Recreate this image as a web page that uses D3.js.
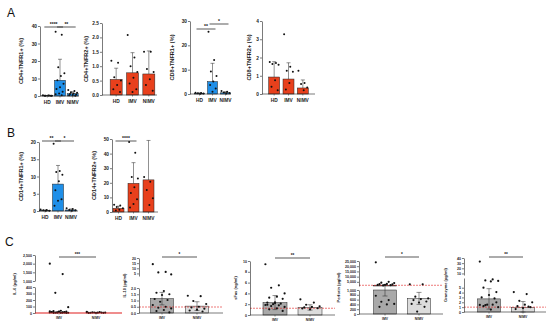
<!DOCTYPE html>
<html>
<head>
<meta charset="utf-8">
<script src="https://cdn.jsdelivr.net/npm/d3@7"></script>
<style>
  body { margin: 0; background: #fff; }
  text { font-family: "Liberation Sans", Arial, sans-serif; font-weight: bold; }
</style>
</head>
<body>
<div id="chart"></div>
<script>
// ---------- data ----------
var groups3 = ["HD", "IMV", "NIMV"];
var groups2 = ["IMV", "NIMV"];

// A: CD4+TNFR1+
var cd4r1Mean = [0.2, 9.0, 1.3];
var cd4r1Sd = [0.1, 12.0, 1.1];
var cd4r1Pts = [[0.4, 0.3, 0.2, 0.1, 0.3, 0.2, 0.1],
                [36.7, 35, 16.5, 13, 11.5, 9, 7, 5, 4, 2.5, 1.5, 1, 0.5],
                [3.5, 2.8, 2.2, 1.8, 1.4, 1.1, 0.9, 0.6, 0.4, 0.2]];
var cd4r1Ticks = [0, 10, 20, 30, 40];

// A: CD4+TNFR2+
var cd4r2Mean = [0.54, 0.77, 0.73];
var cd4r2Sd = [0.39, 0.7, 0.8];
var cd4r2Pts = [[1.19, 1.12, 0.62, 0.5, 0.35, 0.2, 0.1],
                [2.08, 1.3, 1.0, 0.8, 0.6, 0.4, 0.2, 0.1],
                [1.5, 1.5, 0.9, 0.8, 0.55, 0.35, 0.15]];
var cd4r2Ticks = [0, 0.5, 1.0, 1.5, 2.0, 2.5];

// A: CD8+TNFR1+
var cd8r1Mean = [0.3, 5.1, 0.5];
var cd8r1Sd = [0.15, 7.5, 0.4];
var cd8r1Pts = [[0.5, 0.4, 0.3, 0.2, 0.1],
                [25.6, 14, 9.2, 7.4, 5.1, 3.7, 2.3, 0.9],
                [1.2, 0.9, 0.6, 0.4, 0.2]];
var cd8r1Ticks = [0, 10, 20, 30];

// A: CD8+TNFR2+
var cd8r2Mean = [0.93, 0.82, 0.33];
var cd8r2Sd = [0.84, 0.89, 0.44];
var cd8r2Pts = [[1.75, 1.7, 1.65, 1.6, 0.75, 0.4, 0.2],
                [3.27, 1.5, 1.28, 1.22, 0.6, 0.25],
                [1.28, 0.6, 0.55, 0.35, 0.2]];
var cd8r2Ticks = [0, 1, 2, 3, 4];

// B: CD14+TNFR1+
var cd14r1Mean = [0.2, 7.8, 0.3];
var cd14r1Sd = [0.1, 5.4, 0.3];
var cd14r1Pts = [[0.4, 0.3, 0.2, 0.1, 0.1],
                 [19.5, 11.6, 11.3, 10.5, 8.6, 6, 3.4, 3, 1.5],
                 [0.8, 0.6, 0.3, 0.2, 0.1]];
var cd14r1Ticks = [0, 5, 10, 15, 20];

// B: CD14+TNFR2+
var cd14r2Mean = [2.5, 19.6, 22];
var cd14r2Sd = [1.5, 14.2, 27];
var cd14r2Pts = [[5, 4.5, 3.5, 2.5, 1.5, 1],
                 [48, 40.5, 24, 23, 17, 13, 8.7, 5.5, 3],
                 [24, 20.8, 15, 9.4, 4.8]];
var cd14r2Ticks = [0, 10, 20, 30, 40, 50];

// C: IL-6 (pg/ml)
var il6Pts = [[2000, 1400, 310, 90, 35, 28, 22, 18, 15, 12, 10, 8, 6, 5, 4, 3, 2, 1, 20, 14, 9, 7, 25, 11],
              [18, 12, 9, 7, 5, 4, 3, 2, 1, 6, 8, 10]];
var il6TicksLow = [0, 100, 200, 300, 400];
var il6TicksHigh = [1000, 1500, 2000, 2500];

// C: IL-10 (pg/ml)
var il10Mean = [1.15, 0.55];
var il10Sd = [0.5, 0.35];
var il10Pts = [[14, 6.5, 6, 4, 1.76, 1.62, 1.5, 1.44, 1.12, 1.04, 0.9, 0.64, 0.5, 0.42, 0.37, 0.24, 0.16, 0.05],
               [1.38, 1.35, 0.96, 0.72, 0.5, 0.44, 0.35, 0.27, 0.2, 0.12]];
var il10TicksLow = [0, 0.5, 1.0, 1.5, 2.0];
var il10TicksHigh = [5, 10, 15, 20];
var il10Ref = 0.48;

// C: sFas (ng/ml)
var sfasMean = [2.3, 1.4];
var sfasSd = [1.3, 0.5];
var sfasPts = [[9.4, 5.5, 5.05, 4.0, 3.4, 3.2, 3.0, 2.35, 2.3, 2.1, 2.0, 1.85, 1.8, 1.65, 1.5, 1.25, 1.05, 0.75, 2.2, 1.9],
               [2.9, 2.3, 1.9, 1.6, 1.5, 1.4, 1.25, 1.05, 1.2]];
var sfasTicks = [0, 2, 4, 6, 8, 10];
var sfasRef = 1.25;

// C: Perforin (pg/ml)
var perfMean = [1500, 650];
var perfSd = [750, 250];
var perfPts = [[23700, 5000, 4200, 3800, 3000, 2800, 2500, 2200, 2000, 1800, 1600, 760, 580, 510, 420, 400, 300],
               [2600, 2600, 720, 650, 620, 580, 520, 480, 420, 300, 100]];
var perfTicksLow = [0, 200, 400, 600, 800, 1000];
var perfTicksHigh = [5000, 10000, 15000, 20000, 25000];
var perfRef = 1700;

// C: Granzyme (pg/ml)
var granMean = [2.7, 0.95];
var granSd = [2.1, 1.2];
var granPts = [[33, 6.7, 6.5, 6.4, 6.3, 5.0, 4.1, 3.5, 3.0, 2.8, 1.5, 1.45, 1.5, 1.4, 1.0, 0.5, 1.2, 2.0],
               [4.1, 3.7, 2.3, 2.0, 1.5, 1.2, 1.0, 0.8, 0.6, 1.1]];
var granTicksLow = [0, 1, 2, 3, 4, 5];
var granTicksHigh = [10, 20, 30, 40];
var granRef = 1.0;

// ---------- layout ----------
var blue = "#1f8fe8", red = "#e8401c";
var greyDark = "#a9a9a9", greyLight = "#dcdcdc";

var svg = d3.select("#chart").append("svg")
    .attr("width", 550).attr("height", 326);

var charts = [
  {title: "CD4+TNFR1+ (%)", groups: groups3, mean: cd4r1Mean, sd: cd4r1Sd, pts: cd4r1Pts,
   band: [41, 79], axisX: 40, axisEnd: 79, barW: 11, titleX: 23, fill: [blue, blue, blue],
   segs: [{domain: [0, 40], y: [96, 26], ticks: cd4r1Ticks, fmt: "d"}],
   sig: [[0, 1, "****", 27], [1, 2, "**", 27]], small: false},
  {title: "CD4+TNFR2+ (%)", groups: groups3, mean: cd4r2Mean, sd: cd4r2Sd, pts: cd4r2Pts,
   band: [108, 157], axisX: 102, axisEnd: 157, barW: 12, titleX: 88, fill: [red, red, red],
   segs: [{domain: [0, 2.5], y: [95, 23], ticks: cd4r2Ticks, fmt: ".1f"}],
   sig: [], small: false},
  {title: "CD8+TNFR1+ (%)", groups: groups3, mean: cd8r1Mean, sd: cd8r1Sd, pts: cd8r1Pts,
   band: [193, 232], axisX: 190, axisEnd: 231, barW: 10, titleX: 174, fill: [blue, blue, blue],
   segs: [{domain: [0, 30], y: [94, 21], ticks: cd8r1Ticks, fmt: "d"}],
   sig: [[0, 1, "**", 29], [1, 2, "*", 24]], small: false},
  {title: "CD8+TNFR2+ (%)", groups: groups3, mean: cd8r2Mean, sd: cd8r2Sd, pts: cd8r2Pts,
   band: [267, 310], axisX: 262, axisEnd: 315, barW: 11, titleX: 251, fill: [red, red, red],
   segs: [{domain: [0, 4], y: [94, 21], ticks: cd8r2Ticks, fmt: "d"}],
   sig: [], small: false},
  {title: "CD14+TNFR1+ (%)", groups: groups3, mean: cd14r1Mean, sd: cd14r1Sd, pts: cd14r1Pts,
   band: [38.5, 77.5], axisX: 39, axisEnd: 78, barW: 11, titleX: 23, fill: [blue, blue, blue],
   segs: [{domain: [0, 20], y: [211, 142], ticks: cd14r1Ticks, fmt: "d"}],
   sig: [[0, 1, "**", 141], [1, 2, "*", 141]], small: false},
  {title: "CD14+TNFR2+ (%)", groups: groups3, mean: cd14r2Mean, sd: cd14r2Sd, pts: cd14r2Pts,
   band: [111, 156], axisX: 112, axisEnd: 158, barW: 11, titleX: 96, fill: [red, red, red],
   segs: [{domain: [0, 50], y: [212, 139], ticks: cd14r2Ticks, fmt: "d"}],
   sig: [[0, 1, "****", 141]], small: false},
  {title: "IL-6 (pg/ml)", groups: groups2, mean: null, sd: null, pts: il6Pts,
   band: [40.5, 114.5], axisX: 35, axisEnd: 122, barW: 23, titleX: 16, fill: [greyDark, greyLight],
   segs: [{domain: [0, 400], y: [313, 287], ticks: il6TicksLow, fmt: ","},
          {domain: [1000, 2500], y: [281, 255], ticks: il6TicksHigh, fmt: ","}],
   sig: [[0, 1, "***", 257]], ref: 0, refDash: null, small: true},
  {title: "IL-10 (pg/ml)", groups: groups2, mean: il10Mean, sd: il10Sd, pts: il10Pts,
   band: [144.5, 214.5], axisX: 139, axisEnd: 223, barW: 23, titleX: 126, fill: [greyDark, greyLight],
   segs: [{domain: [0, 2], y: [313, 288], ticks: il10TicksLow, fmt: ".1f"},
          {domain: [2.5, 20], y: [276, 258], ticks: il10TicksHigh, fmt: "d"}],
   sig: [[0, 1, "*", 257]], ref: il10Ref, refDash: "2,1", small: true},
  {title: "sFas (ng/ml)", groups: groups2, mean: sfasMean, sd: sfasSd, pts: sfasPts,
   band: [257.5, 327.5], axisX: 250, axisEnd: 335, barW: 24, titleX: 237, fill: [greyDark, greyLight],
   segs: [{domain: [0, 10], y: [315, 261], ticks: sfasTicks, fmt: "d"}],
   sig: [[0, 1, "**", 258]], ref: sfasRef, refDash: "2,1", small: true},
  {title: "Perforin (pg/ml)", groups: groups2, mean: perfMean, sd: perfSd, pts: perfPts,
   band: [368, 436], axisX: 359, axisEnd: 443, barW: 23, titleX: 340, fill: [greyDark, greyLight],
   segs: [{domain: [0, 1000], y: [314, 290], ticks: perfTicksLow, fmt: ","},
          {domain: [1000, 25000], y: [286, 261], ticks: perfTicksHigh, fmt: ","}],
   sig: [[0, 1, "*", 257]], ref: perfRef, refDash: "2,1", small: true},
  {title: "Granzyme (pg/ml)", groups: groups2, mean: granMean, sd: granSd, pts: granPts,
   band: [472, 540], axisX: 464, axisEnd: 546, barW: 23, titleX: 447, fill: [greyDark, greyLight],
   segs: [{domain: [0, 7], y: [312, 278], ticks: granTicksLow, fmt: "d"},
          {domain: [7, 40], y: [275, 258], ticks: granTicksHigh, fmt: "d"}],
   sig: [[0, 1, "**", 257]], ref: granRef, refDash: "2,1", small: true}
];

function drawChart(c) {
    var g = svg.append("g");
    var x = d3.scaleBand().domain(c.groups).range(c.band);
    var segs = c.segs.map(function(s) {
        return {domain: s.domain, ticks: s.ticks, fmt: s.fmt,
                sc: d3.scaleLinear().domain(s.domain).range(s.y)};
    });
    function yOf(v) {
        for (var i = 0; i < segs.length; i++) {
            var s = segs[i];
            if (v < s.domain[0]) return s.sc(s.domain[0]);
            if (v <= s.domain[1]) return s.sc(v);
        }
        var last = segs[segs.length - 1];
        return last.sc(last.domain[1]);
    }
    var base = segs[0].sc(0);
    var cx = function(i) { return x(c.groups[i]) + x.bandwidth() / 2; };
    var fs = c.small ? 3.6 : 4.8;

    // bars
    if (c.mean) {
        c.mean.forEach(function(m, i) {
            segs.forEach(function(s) {
                if (m <= s.domain[0]) return;
                var top = s.sc(Math.min(m, s.domain[1]));
                var bot = s.sc(s.domain[0]);
                g.append("rect")
                    .attr("x", cx(i) - c.barW / 2).attr("y", top)
                    .attr("width", c.barW).attr("height", Math.max(bot - top, 0.3))
                    .attr("fill", c.fill[i]).attr("stroke", "#222").attr("stroke-width", 0.5);
            });
        });
    }

    // reference line
    if (c.ref !== undefined) {
        g.append("line")
            .attr("x1", c.axisX).attr("x2", c.axisEnd)
            .attr("y1", yOf(c.ref)).attr("y2", yOf(c.ref))
            .attr("stroke", "#e02020").attr("stroke-width", 0.6)
            .attr("stroke-dasharray", c.refDash);
    }

    // error bars
    if (c.mean) {
        c.mean.forEach(function(m, i) {
            var lo = c.small ? m - c.sd[i] : m;
            var hi = m + c.sd[i];
            var cap = c.small ? 5 : 4;
            g.append("line").attr("x1", cx(i)).attr("x2", cx(i))
                .attr("y1", yOf(lo)).attr("y2", yOf(hi))
                .attr("stroke", "#222").attr("stroke-width", 0.5);
            g.append("line").attr("x1", cx(i) - cap / 2).attr("x2", cx(i) + cap / 2)
                .attr("y1", yOf(hi)).attr("y2", yOf(hi))
                .attr("stroke", "#222").attr("stroke-width", 0.5);
            if (c.small) {
                g.append("line").attr("x1", cx(i) - cap / 2).attr("x2", cx(i) + cap / 2)
                    .attr("y1", yOf(lo)).attr("y2", yOf(lo))
                    .attr("stroke", "#222").attr("stroke-width", 0.5);
            }
        });
    }

    // dots
    c.pts.forEach(function(arr, i) {
        var spread = c.barW * 0.8;
        g.selectAll(null).data(arr).enter().append("circle")
            .attr("cx", function(d, k) { return cx(i) + (((k * 7) % 11) / 10 - 0.5) * spread; })
            .attr("cy", function(d) { return yOf(d); })
            .attr("r", c.small ? 1.1 : 1.0)
            .attr("fill", "#111");
    });

    // y axis segments
    segs.forEach(function(s) {
        var ax = g.append("g")
            .attr("transform", "translate(" + c.axisX + ",0)")
            .call(d3.axisLeft(s.sc).tickValues(s.ticks).tickSize(2).tickSizeOuter(0)
                  .tickPadding(1).tickFormat(d3.format(s.fmt)));
        ax.selectAll("text").style("font-size", fs + "px").attr("fill", "#222");
        ax.selectAll("line,path").attr("stroke", "#222").attr("stroke-width", 0.6);
    });

    // x axis
    g.append("line").attr("x1", c.axisX).attr("x2", c.axisEnd)
        .attr("y1", base).attr("y2", base)
        .attr("stroke", c.ref === 0 ? "#e02020" : "#222").attr("stroke-width", 0.6);
    c.groups.forEach(function(gr, i) {
        g.append("line").attr("x1", cx(i)).attr("x2", cx(i))
            .attr("y1", base).attr("y2", base + 1.5)
            .attr("stroke", "#222").attr("stroke-width", 0.5);
        g.append("text").attr("x", cx(i)).attr("y", base + (c.small ? 6 : 7.5))
            .attr("text-anchor", "middle")
            .style("font-size", (c.small ? 3.4 : 4.8) + "px").attr("fill", "#222")
            .text(gr);
    });

    // axis title
    var top = segs[segs.length - 1].sc.range()[1];
    var midY = (base + top) / 2;
    g.append("text")
        .attr("transform", "translate(" + c.titleX + "," + midY + ") rotate(-90)")
        .attr("text-anchor", "middle")
        .style("font-size", (c.small ? 4 : 5.6) + "px").attr("fill", "#222")
        .text(c.title);

    // significance
    c.sig.forEach(function(s) {
        var xa = cx(s[0]) - (c.small ? 0 : 3), xb = cx(s[1]) + (c.small ? 0 : 3);
        g.append("line").attr("x1", xa).attr("x2", xb)
            .attr("y1", s[3]).attr("y2", s[3])
            .attr("stroke", "#111").attr("stroke-width", 0.7);
        g.append("text").attr("x", (xa + xb) / 2).attr("y", s[3] - 1)
            .attr("text-anchor", "middle")
            .style("font-size", (c.small ? 4.5 : 5) + "px").attr("fill", "#111")
            .text(s[2]);
    });
}

charts.forEach(drawChart);

// panel letters
[["A", 7, 17], ["B", 7, 137], ["C", 5, 246]].forEach(function(p) {
    svg.append("text").attr("x", p[1]).attr("y", p[2])
        .style("font-size", "12px").style("font-weight", "normal")
        .attr("fill", "#111").text(p[0]);
});
</script>
</body>
</html>
